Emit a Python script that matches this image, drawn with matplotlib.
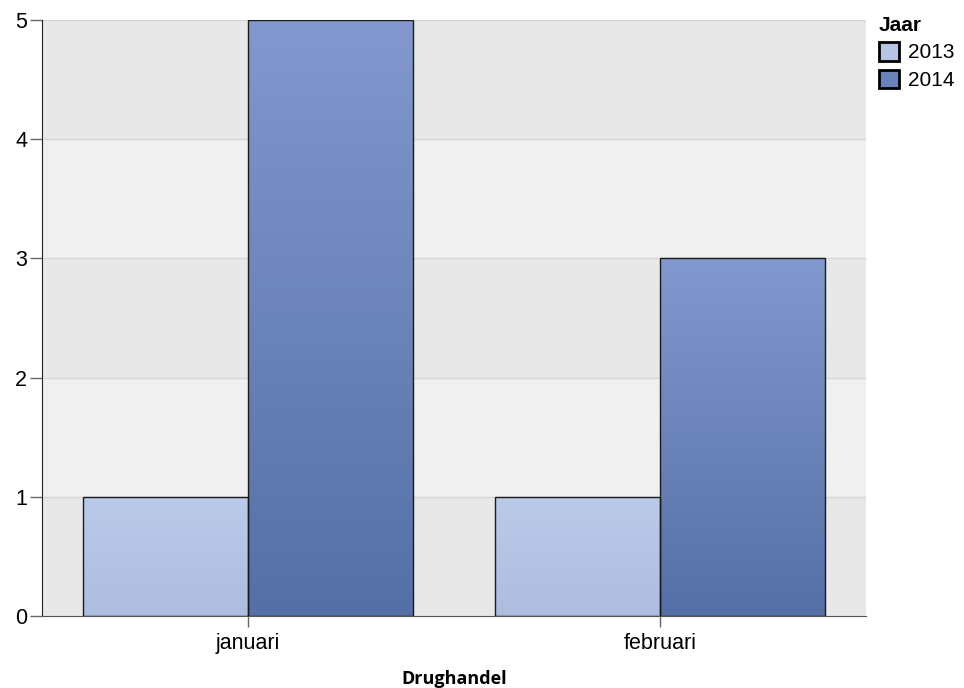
import numpy as np
import matplotlib
matplotlib.use("Agg")
import matplotlib.pyplot as plt
from matplotlib.patches import Patch
from matplotlib.colors import LinearSegmentedColormap

categories = ["januari", "februari"]
years = ["2013", "2014"]
values_2013 = [1, 1]
values_2014 = [5, 3]
series = [values_2013, values_2014]
yticks = [0, 1, 2, 3, 4, 5]

top_colors = ["#bccae9", "#8298ce"]
bottom_colors = ["#adbde0", "#5470a6"]
legend_colors = ["#b6c5e6", "#6a84bb"]

plt.rcParams['font.family'] = ['Liberation Sans', 'DejaVu Sans']
fig = plt.figure(figsize=(9.64, 6.88), dpi=100)
ax = fig.add_axes([42/964, 1-616/688, 824/964, 596/688])

ax.set_xlim(-0.5, len(categories) - 0.5)
ax.set_ylim(0, 5)

# alternating bands
for i in range(len(yticks) - 1):
    ax.axhspan(yticks[i], yticks[i+1], color="#e8e8e8" if i % 2 == 0 else "#f0f0f0", zorder=0, lw=0)
for t in yticks[1:]:
    ax.axhline(t, color="#d6d6d6", lw=1, zorder=0.5)

width = 0.4
x = np.arange(len(categories))
for si, vals in enumerate(series):
    offs = (si - 0.5) * width
    bars = ax.bar(x + offs, vals, width=width, color="none", edgecolor="#1a1a1a", linewidth=1, zorder=3)
    cmap = LinearSegmentedColormap.from_list("g%d" % si, [bottom_colors[si], top_colors[si]])
    for b in bars:
        x0, y0 = b.get_x(), b.get_y()
        w, h = b.get_width(), b.get_height()
        grad = np.linspace(0, 1, 256).reshape(-1, 1)
        im = ax.imshow(grad, cmap=cmap, origin="lower", aspect="auto",
                       extent=[x0, x0 + w, y0, y0 + h], zorder=2)
        im.set_clip_path(b)

ax.set_xlim(-0.5, len(categories) - 0.5)
ax.set_ylim(0, 5)

ax.set_xticks(x)
ax.set_xticklabels(categories)
ax.set_yticks(yticks)
ax.tick_params(axis="both", labelsize=15.5, width=1, color="#666666")
ax.tick_params(axis="y", length=8.6, pad=2)
ax.tick_params(axis="x", length=8, pad=4)
for s in ["top", "right"]:
    ax.spines[s].set_visible(False)
ax.spines["left"].set_color("#222222")
ax.spines["bottom"].set_color("#555555")

ax.set_xlabel("Drughandel", fontsize=13, fontweight="bold", family=["Open Sans", "DejaVu Sans"], labelpad=12)

handles = [Patch(facecolor=legend_colors[i], edgecolor="black", linewidth=2, label=years[i]) for i in range(len(years))]
leg = fig.legend(handles=handles, title="Jaar", loc="upper left", bbox_to_anchor=(864/964, 1 - 1/688),
                 frameon=False, fontsize=15, title_fontproperties={"weight": "bold", "size": 15},
                 handlelength=1.0, handleheight=1.0, handletextpad=0.4, labelspacing=0.35, borderpad=0.2)
leg._legend_box.align = "left"

fig.savefig("out.png", dpi=100)
